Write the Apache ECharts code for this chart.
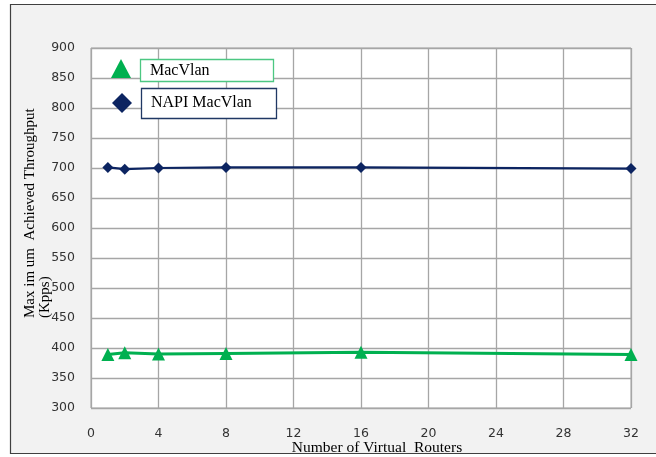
<!DOCTYPE html>
<html><head><meta charset="utf-8">
<script src="https://cdn.jsdelivr.net/npm/echarts@6/dist/echarts.min.js"></script>
<style>html,body{margin:0;padding:0;background:#fff}#c{width:656px;height:457px}</style>
</head><body><div id="c"></div>
<script>
const routers = [1, 2, 4, 8, 16, 32];
const macvlan = [389, 392, 390, 391, 393, 389];
const napiMacvlan = [701, 698, 700, 701, 701, 699];
const xTicks = [0, 4, 8, 12, 16, 20, 24, 28, 32];
const yTicks = [300, 350, 400, 450, 500, 550, 600, 650, 700, 750, 800, 850, 900];
const seriesNames = ['MacVlan', 'NAPI MacVlan'];

const green = '#00b050', navy = '#0c2461';
const chart = echarts.init(document.getElementById('c'));
const serif = '"Liberation Serif", "DejaVu Serif", serif';
chart.setOption({
  backgroundColor: '#ffffff',
  animation: false,
  grid: { left: 91, right: 25, top: 48, bottom: 49, show: true, backgroundColor: '#ffffff', borderColor: '#a6a6a6', borderWidth: 1 },
  xAxis: {
    type: 'value', min: xTicks[0], max: xTicks[xTicks.length - 1], interval: 4,
    axisLine: { show: false }, axisTick: { show: false },
    axisLabel: { color: '#333', fontFamily: 'DejaVu Sans', fontSize: 12.5, margin: 19 },
    splitLine: { show: true, lineStyle: { color: '#a6a6a6', width: 1.3 } }
  },
  yAxis: {
    type: 'value', min: yTicks[0], max: yTicks[yTicks.length - 1], interval: 50,
    axisLine: { show: false }, axisTick: { show: false },
    axisLabel: { color: '#333', fontFamily: 'DejaVu Sans', fontSize: 12.5, margin: 16 },
    splitLine: { show: true, lineStyle: { color: '#a6a6a6', width: 1.3 } }
  },
  series: [
    { name: seriesNames[0], type: 'line', data: routers.map((x, i) => [x, macvlan[i]]),
      symbol: 'triangle', symbolSize: 13, lineStyle: { color: green, width: 3 }, itemStyle: { color: green }, z: 3 },
    { name: seriesNames[1], type: 'line', data: routers.map((x, i) => [x, napiMacvlan[i]]),
      symbol: 'diamond', symbolSize: 11, lineStyle: { color: navy, width: 2.2 }, itemStyle: { color: navy }, z: 3 }
  ],
  graphic: [
    { type: 'rect', z: -10, silent: true, shape: { x: 10.5, y: 4.5, width: 700, height: 449 },
      style: { fill: '#f2f2f2', stroke: '#404040', lineWidth: 1.2 } },
    { type: 'text', x: 37.5, y: 318, rotation: Math.PI / 2, z: 5,
      style: { text: 'Max im um  Achieved Throughput\n(Kpps)', fill: '#000', font: '15px ' + serif, align: 'left', verticalAlign: 'middle', lineHeight: 15 } },
    { type: 'text', x: 377, y: 448, z: 5,
      style: { text: 'Number of Virtual  Routers', fill: '#000', font: '15.5px ' + serif, align: 'center', verticalAlign: 'middle' } },
    { type: 'rect', z: 5, shape: { x: 140.5, y: 59.5, width: 133, height: 22 }, style: { fill: '#fff', stroke: '#4cc782', lineWidth: 1.3 } },
    { type: 'text', x: 150, y: 71, z: 6, style: { text: seriesNames[0], fill: '#000', font: '16px ' + serif, verticalAlign: 'middle' } },
    { type: 'rect', z: 5, shape: { x: 141.5, y: 88.5, width: 135, height: 30 }, style: { fill: '#fff', stroke: '#203864', lineWidth: 1.3 } },
    { type: 'text', x: 151, y: 103, z: 6, style: { text: seriesNames[1], fill: '#000', font: '16px ' + serif, verticalAlign: 'middle' } },
    { type: 'polygon', z: 6, shape: { points: [[121, 59], [111, 78], [131, 78]] }, style: { fill: green } },
    { type: 'polygon', z: 6, shape: { points: [[122, 93], [132, 103], [122, 113], [112, 103]] }, style: { fill: navy } }
  ]
});
</script></body></html>
